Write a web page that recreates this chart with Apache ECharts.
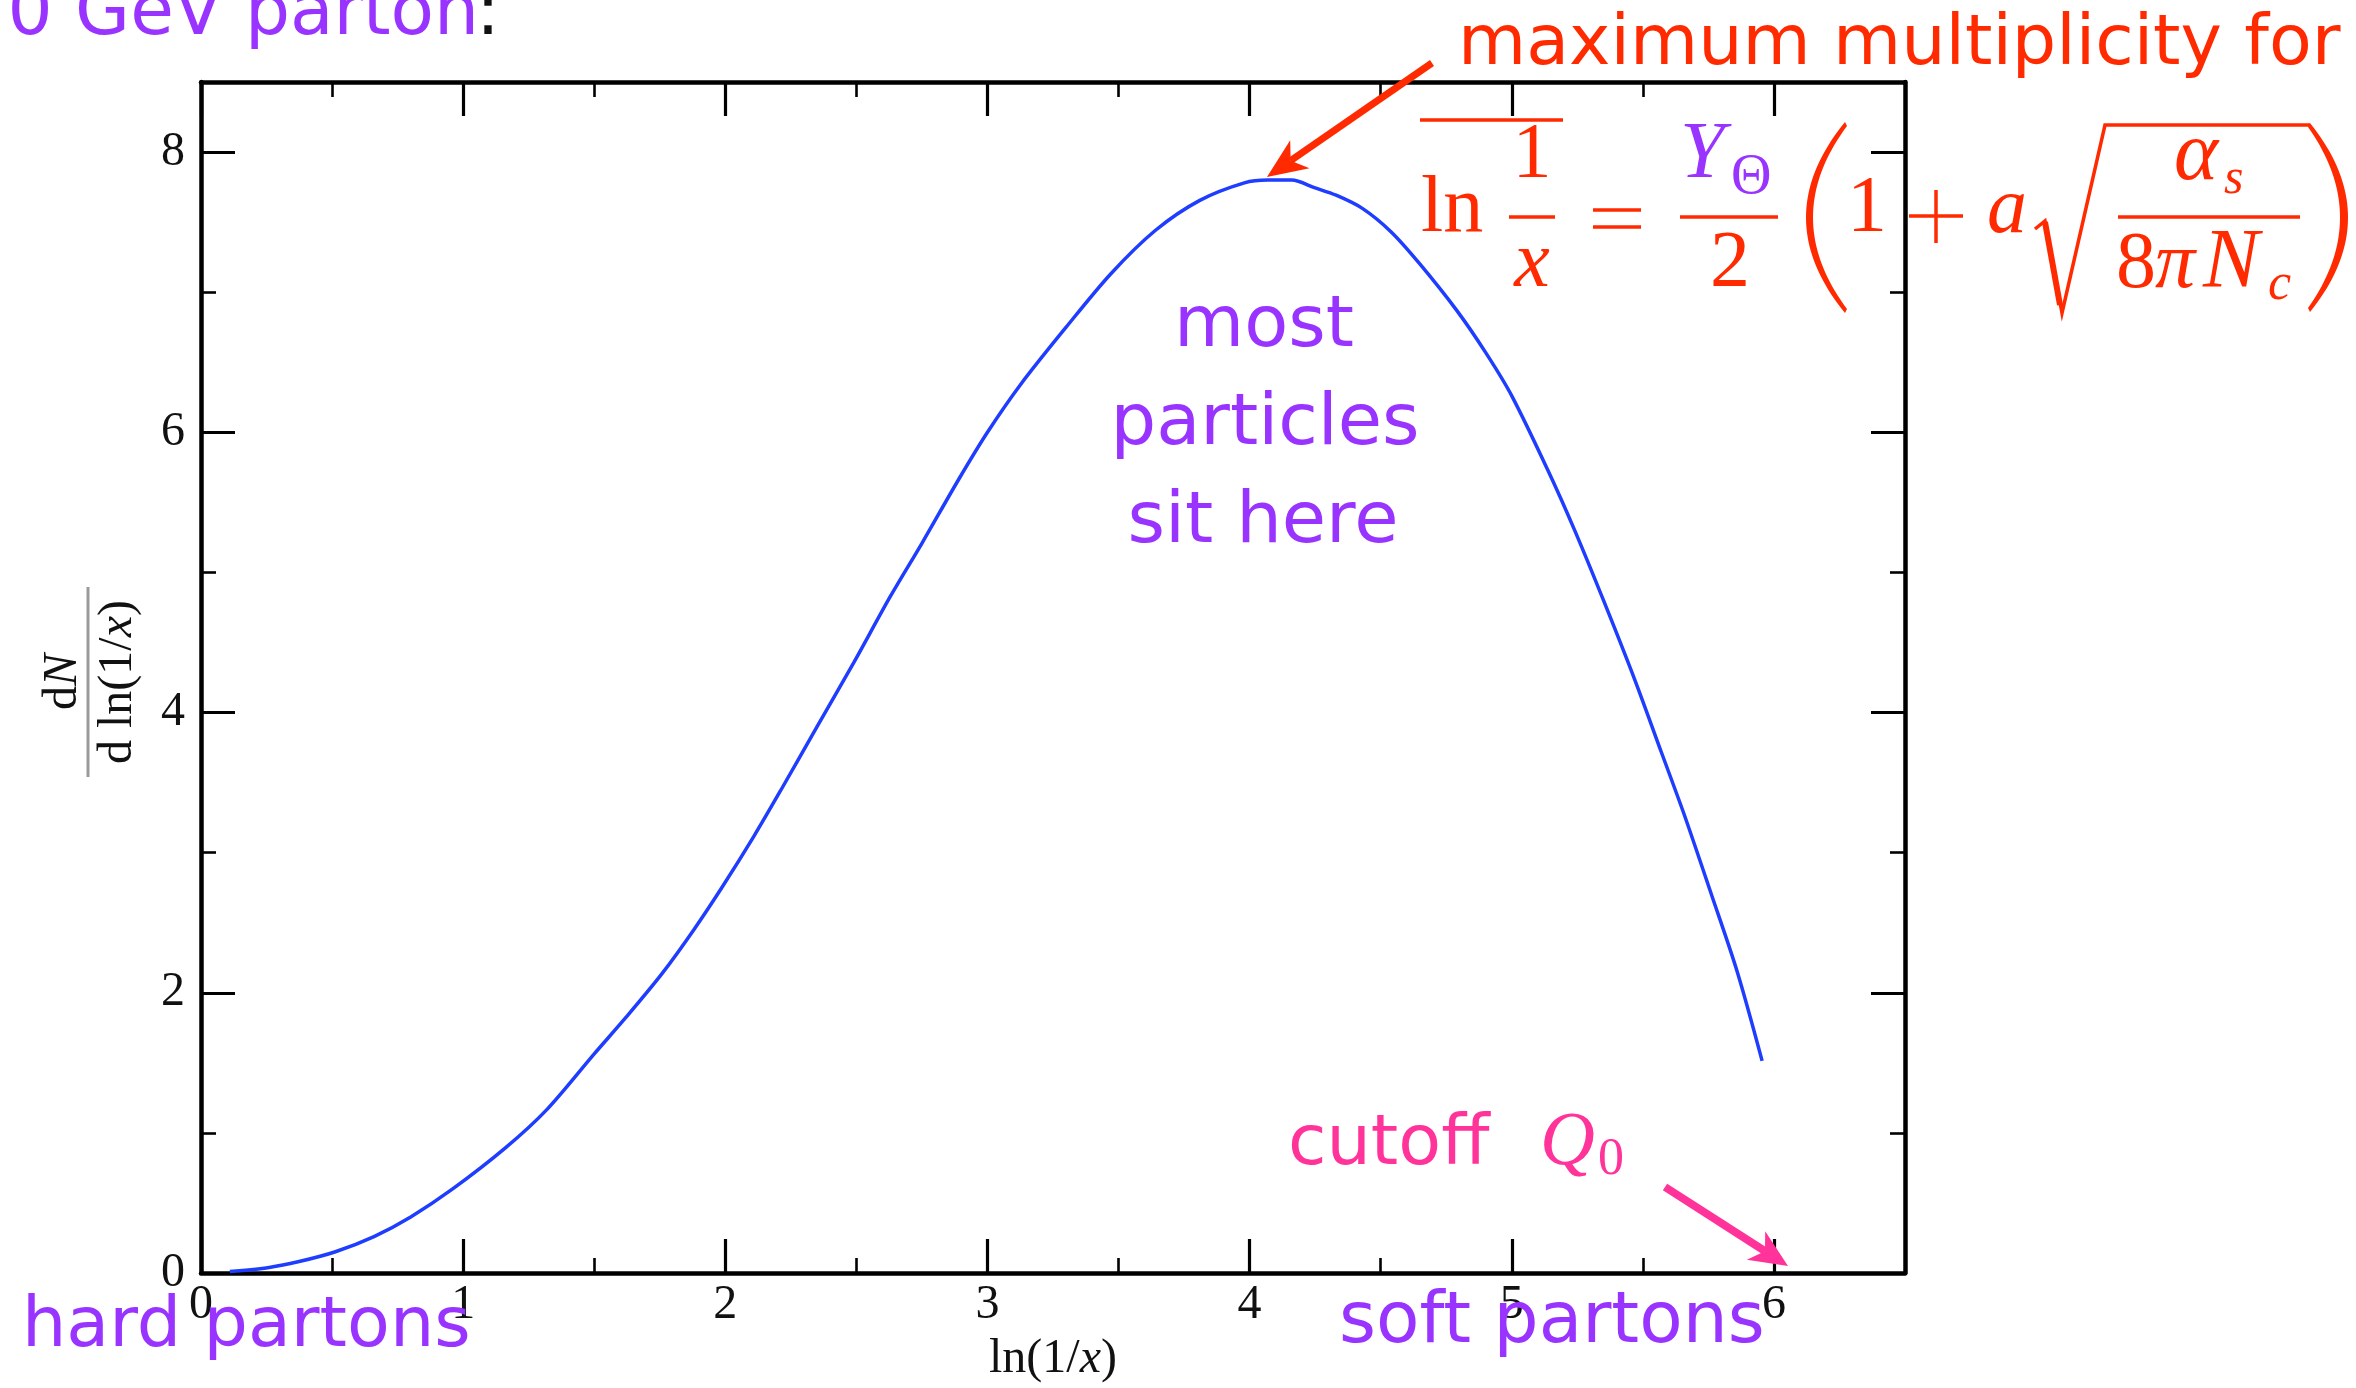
<!DOCTYPE html>
<html>
<head>
<meta charset="utf-8">
<script src="https://cdn.jsdelivr.net/npm/echarts@6/dist/echarts.min.js"></script>
<style>
  html, body { margin: 0; padding: 0; background: #fff; }
  #chart { width: 2356px; height: 1388px; }
</style>
</head>
<body>
<div id="chart"></div>
<script>
// Parton multiplicity spectrum dN/dln(1/x) versus ln(1/x)
const lnInvX = [0.11, 0.26, 0.37, 0.51, 0.66, 0.80, 0.96, 1.16, 1.32, 1.50, 1.62, 1.76, 1.88, 1.99, 2.11,
                2.21, 2.35, 2.49, 2.63, 2.75, 2.89, 3.00, 3.13, 3.30, 3.47, 3.64, 3.81, 3.98, 4.07, 4.16,
                4.25, 4.33, 4.43, 4.54, 4.65, 4.79, 4.90, 5.00, 5.14, 5.24, 5.35, 5.47, 5.57, 5.66, 5.76,
                5.86, 5.955];
const dNdlnInvX = [0.01, 0.04, 0.08, 0.15, 0.26, 0.40, 0.60, 0.891, 1.168, 1.564, 1.822, 2.14, 2.45, 2.76, 3.12,
                   3.44, 3.90, 4.356, 4.83, 5.208, 5.663, 6.00, 6.35, 6.75, 7.13, 7.44, 7.655, 7.78, 7.80, 7.80,
                   7.744, 7.692, 7.598, 7.43, 7.20, 6.87, 6.57, 6.26, 5.72, 5.30, 4.80, 4.23, 3.72, 3.26, 2.71,
                   2.15, 1.514];

// Tick positions and labels
const xMajorTicks = [0, 1, 2, 3, 4, 5, 6];
const xMinorTicks = [0.5, 1.5, 2.5, 3.5, 4.5, 5.5];
const yMajorTicks = [0, 2, 4, 6, 8];
const yMinorTicks = [1, 3, 5, 7];
const xRange = [0, 6.5];
const yRange = [0, 8.5];

const SERIF = '"Liberation Serif", "Times New Roman", serif';
const HAND = '"DejaVu Sans", sans-serif';
const RED = '#ff2a00';
const PURPLE = '#9933ff';
const PINK = '#ff3399';
const BLUE = '#1f3dff';

const chart = echarts.init(document.getElementById('chart'), null, { renderer: 'canvas' });

function axis(kind, position, ticks, tickLen, withLine, withLabels, extra) {
  const range = kind === 'x' ? xRange : yRange;
  return Object.assign({
    type: 'value',
    position: position,
    min: range[0],
    max: range[1],
    splitLine: { show: false },
    axisLine: { show: withLine, onZero: false, lineStyle: { color: '#000', width: 4.5 } },
    axisTick: {
      show: true, inside: true, length: tickLen, customValues: ticks,
      lineStyle: { color: '#000', width: tickLen > 20 ? 3.2 : 2.6 }
    },
    axisLabel: {
      show: withLabels, customValues: ticks,
      margin: kind === 'x' ? 8 : 16,
      fontFamily: SERIF, fontSize: 48, color: '#111'
    }
  }, extra || {});
}

const points = lnInvX.map((x, i) => [x, dNdlnInvX[i]]);

chart.setOption({
  animation: false,
  backgroundColor: '#fff',
  grid: { left: 201, right: 451, top: 82, bottom: 114, containLabel: false },
  xAxis: [
    axis('x', 'bottom', xMajorTicks, 34, true, true, {
      name: 'ln(1/{i|x})',
      nameLocation: 'middle',
      nameGap: 62,
      nameTextStyle: {
        fontFamily: SERIF, fontSize: 48, color: '#111',
        rich: { i: { fontFamily: SERIF, fontSize: 48, fontStyle: 'italic', color: '#111' } }
      }
    }),
    axis('x', 'bottom', xMinorTicks, 15, false, false),
    axis('x', 'top', xMajorTicks, 34, true, false),
    axis('x', 'top', xMinorTicks, 15, false, false)
  ],
  yAxis: [
    axis('y', 'left', yMajorTicks, 34, true, true),
    axis('y', 'left', yMinorTicks, 15, false, false),
    axis('y', 'right', yMajorTicks, 34, true, false),
    axis('y', 'right', yMinorTicks, 15, false, false)
  ],
  series: [{
    type: 'line',
    xAxisIndex: 0,
    yAxisIndex: 0,
    data: points,
    showSymbol: false,
    smooth: 0.3,
    lineStyle: { color: BLUE, width: 3.5 },
    z: 5
  }]
});

// ---- annotation helpers ----
function txt(str, x, baseline, size, color, opts) {
  opts = opts || {};
  const fam = opts.family || SERIF;
  const mid = fam === HAND ? 0.346 : 0.3375;
  const align = opts.align || 'left';
  return {
    type: 'text', x: x, y: baseline - mid * size, z: 100, silent: true,
    style: {
      text: str,
      font: (opts.italic ? 'italic ' : '') + size + 'px ' + fam,
      fill: color,
      textAlign: align, align: align,
      textVerticalAlign: 'middle', verticalAlign: 'middle'
    }
  };
}
function seg(x1, y1, x2, y2, color, w) {
  return { type: 'line', z: 100, silent: true, shape: { x1, y1, x2, y2 },
           style: { stroke: color, lineWidth: w } };
}
function arrow(x1, y1, x2, y2, w, hl, hw, color) {
  const dx = x2 - x1, dy = y2 - y1, L = Math.hypot(dx, dy);
  const ux = dx / L, uy = dy / L, px = -uy, py = ux;
  const bx = x2 - ux * hl, by = y2 - uy * hl;
  const nx = x2 - ux * hl * 0.72, ny = y2 - uy * hl * 0.72;
  return [
    seg(x1, y1, nx, ny, color, w),
    { type: 'polygon', z: 101, silent: true,
      shape: { points: [[x2, y2], [bx + px * hw, by + py * hw], [nx, ny], [bx - px * hw, by - py * hw]] },
      style: { fill: color } }
  ];
}
// crescent-shaped bracket from two quadratic curves
function bracket(x0, yTop, yBot, outerCtrl, innerCtrl, innerX, color) {
  const pts = [];
  const ym = (yTop + yBot) / 2;
  const N = 40;
  for (let i = 0; i <= N; i++) {
    const t = i / N;
    const x = (1 - t) * (1 - t) * x0 + 2 * t * (1 - t) * outerCtrl + t * t * x0;
    const y = (1 - t) * (1 - t) * yTop + 2 * t * (1 - t) * ym + t * t * yBot;
    pts.push([x, y]);
  }
  for (let i = N; i >= 0; i--) {
    const t = i / N;
    const a = yTop + 4, b = yBot - 4;
    const x = (1 - t) * (1 - t) * innerX + 2 * t * (1 - t) * innerCtrl + t * t * innerX;
    const y = (1 - t) * (1 - t) * a + 2 * t * (1 - t) * ((a + b) / 2) + t * t * b;
    pts.push([x, y]);
  }
  return { type: 'polygon', z: 100, silent: true, shape: { points: pts }, style: { fill: color } };
}

// peak of the spectrum, used as the target of the red arrow
let peakIdx = 0;
dNdlnInvX.forEach((v, i) => { if (v > dNdlnInvX[peakIdx]) peakIdx = i; });
const peakPx = chart.convertToPixel({ xAxisIndex: 0, yAxisIndex: 0 }, [lnInvX[peakIdx], dNdlnInvX[peakIdx]]);

const g = [];

// heading (partly outside the canvas)
g.push(txt('0 GeV parton', 479, 40, 71, PURPLE, { family: HAND, align: 'right' }));
g.push(txt(':', 476, 40, 71, '#111', { family: HAND }));

// annotations
g.push(txt('maximum multiplicity for', 1458, 70, 70, RED, { family: HAND }));
g.push(...arrow(1432, 63, peakPx[0] - 1, peakPx[1] - 3, 7, 40, 17, RED));

g.push(txt('most', 1264, 352, 72, PURPLE, { family: HAND, align: 'center' }));
g.push(txt('particles', 1265, 450, 72, PURPLE, { family: HAND, align: 'center' }));
g.push(txt('sit here', 1263, 548, 72, PURPLE, { family: HAND, align: 'center' }));

g.push(txt('hard partons', 22, 1352, 70, PURPLE, { family: HAND }));
g.push(txt('soft partons', 1339, 1348, 71, PURPLE, { family: HAND }));

g.push(txt('cutoff', 1288, 1170, 70, PINK, { family: HAND }));
g.push(txt('Q', 1540, 1170, 76, PINK, { italic: true }));
g.push(txt('0', 1598, 1178, 52, PINK));
g.push(...arrow(1665, 1187, 1788, 1266, 8, 38, 17, PINK));

// formula: mean ln(1/x) = Y_Θ/2 (1 + a sqrt(α_s / 8πN_c))
g.push(seg(1420, 120, 1563, 120, RED, 3.5));
g.push(txt('ln', 1421, 237, 80, RED));
g.push(txt('1', 1532, 182, 78, RED, { align: 'center' }));
g.push(seg(1509, 217, 1555, 217, RED, 3.5));
g.push(txt('x', 1532, 292, 80, RED, { italic: true, align: 'center' }));
g.push(seg(1593, 210, 1641, 210, RED, 3.5));
g.push(seg(1593, 227, 1641, 227, RED, 3.5));
g.push(txt('Y', 1680, 183, 80, PURPLE, { italic: true }));
g.push(txt('\u0398', 1731, 197, 56, PURPLE));
g.push(seg(1680, 217, 1778, 217, RED, 3.5));
g.push(txt('2', 1730, 292, 80, RED, { align: 'center' }));
g.push(bracket(1845, 122, 313, 1767, 1779, 1847, RED));
g.push(txt('1', 1867, 237, 80, RED, { align: 'center' }));
g.push(seg(1909, 216, 1963, 216, RED, 3.5));
g.push(seg(1936, 190, 1936, 243, RED, 3.5));
g.push(txt('a', 1987, 238, 80, RED, { italic: true }));
g.push({ type: 'polyline', z: 100, silent: true,
         shape: { points: [[2035, 229], [2045, 221], [2062, 313], [2105, 125], [2310, 125]] },
         style: { stroke: RED, lineWidth: 3.5, fill: null } });
g.push(seg(2045, 222, 2060, 305, RED, 6));
g.push(txt('\u03b1', 2196, 185, 84, RED, { italic: true, align: 'center' }));
g.push(txt('s', 2224, 197, 50, RED, { italic: true }));
g.push(seg(2118, 217, 2300, 217, RED, 3.5));
g.push(txt('8', 2116, 293, 80, RED));
g.push(txt('\u03c0', 2155, 293, 80, RED, { italic: true }));
g.push(txt('N', 2203, 293, 84, RED, { italic: true }));
g.push(txt('c', 2268, 303, 52, RED, { italic: true }));
g.push(bracket(2310, 123, 312, 2386, 2372, 2308, RED));

// y-axis title, a rotated fraction dN / d ln(1/x)
g.push({
  type: 'group', x: 88, y: 682, rotation: Math.PI / 2, silent: true, z: 100,
  children: [
    { type: 'line', shape: { x1: -95, y1: 0, x2: 95, y2: 0 }, style: { stroke: '#9a9a9a', lineWidth: 3 } },
    { type: 'text', x: 0, y: -8 - 0.3375 * 48,
      style: { text: 'd{i|N}', font: '48px ' + SERIF, fill: '#111',
               textAlign: 'center', align: 'center', textVerticalAlign: 'middle', verticalAlign: 'middle',
               rich: { i: { fontFamily: SERIF, fontSize: 48, fontStyle: 'italic', fill: '#111', color: '#111' } } } },
    { type: 'text', x: 0, y: 47 - 0.3375 * 48,
      style: { text: 'd ln(1/{i|x})', font: '48px ' + SERIF, fill: '#111',
               textAlign: 'center', align: 'center', textVerticalAlign: 'middle', verticalAlign: 'middle',
               rich: { i: { fontFamily: SERIF, fontSize: 48, fontStyle: 'italic', fill: '#111', color: '#111' } } } }
  ]
});

chart.setOption({ graphic: { elements: g } });
</script>
</body>
</html>
